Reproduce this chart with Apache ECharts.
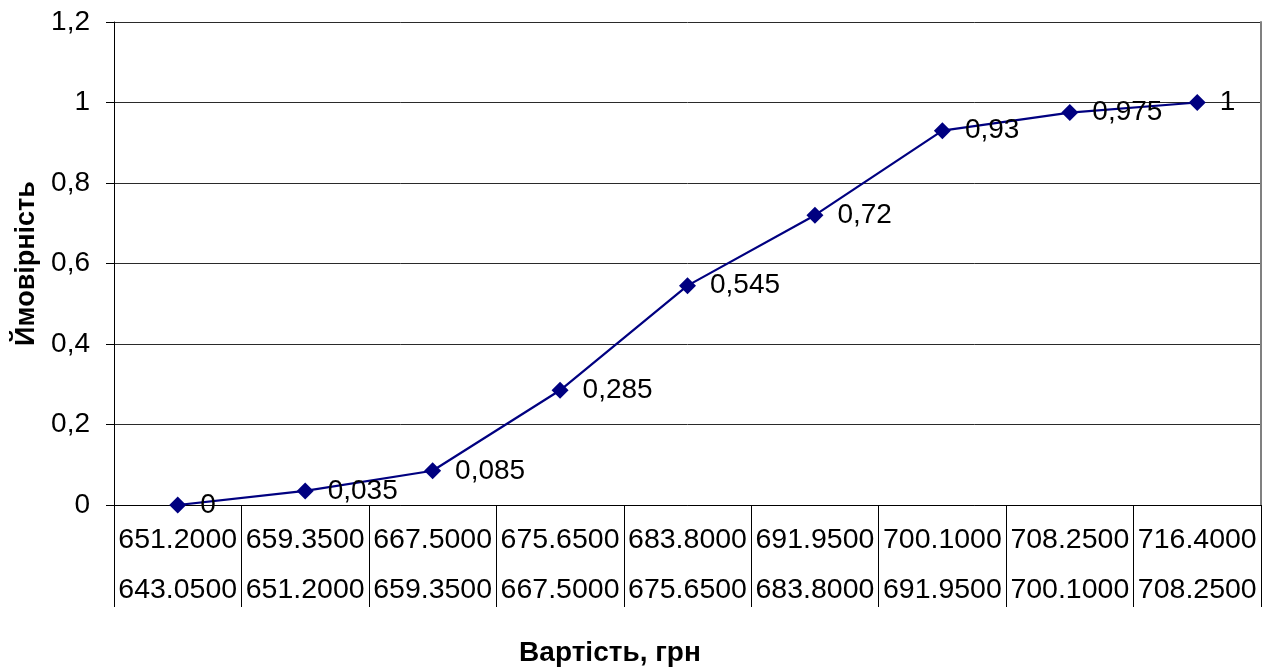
<!DOCTYPE html>
<html>
<head>
<meta charset="utf-8">
<script src="https://cdn.jsdelivr.net/npm/echarts@6/dist/echarts.min.js"></script>
<style>
  html, body { margin: 0; padding: 0; background: #fff; }
  #chart { width: 1275px; height: 669px; }
</style>
</head>
<body>
<div id="chart"></div>
<script>
// Interval bounds (upper / lower) of each cost bin, UAH
const upperBounds = ['651.2000', '659.3500', '667.5000', '675.6500', '683.8000', '691.9500', '700.1000', '708.2500', '716.4000'];
const lowerBounds = ['643.0500', '651.2000', '659.3500', '667.5000', '675.6500', '683.8000', '691.9500', '700.1000', '708.2500'];
// Cumulative probability per bin
const probability = [0, 0.035, 0.085, 0.285, 0.545, 0.72, 0.93, 0.975, 1];
// Y axis ticks
const yMin = 0, yMax = 1.2, yStep = 0.2;

const categories = upperBounds.map((u, i) => u + '\n' + lowerBounds[i]);
const FONT = 'Arial, "Liberation Sans", sans-serif';
const comma = v => String(+(+v).toFixed(3)).replace('.', ',');

const chart = echarts.init(document.getElementById('chart'));
chart.setOption({
  animation: false,
  backgroundColor: '#ffffff',
  textStyle: { fontFamily: FONT },
  grid: { left: 114, right: 14, top: 22, bottom: 164, containLabel: false },
  title: [
    {
      text: 'Вартість, грн',
      left: 605, top: 634, textAlign: 'center',
      textStyle: { fontFamily: FONT, fontSize: 28, fontWeight: 'bold', color: '#000' }
    }
  ],
  xAxis: {
    type: 'category',
    data: categories,
    boundaryGap: true,
    axisLine: { show: true, lineStyle: { color: '#000', width: 1 } },
    axisTick: { show: true, interval: 0, length: 102, lineStyle: { color: '#000', width: 1 } },
    axisLabel: {
      interval: 0,
      margin: 10,
      formatter: v => {
        const p = v.split('\n');
        return '{a|' + p[0] + '}\n{a|' + p[1] + '}';
      },
      rich: { a: { fontFamily: FONT, fontSize: 28.5, color: '#000', lineHeight: 50 } }
    },
    splitLine: { show: false }
  },
  yAxis: [
    {
      type: 'value',
      min: yMin, max: yMax, interval: yStep,
      name: 'Ймовірність',
      nameLocation: 'middle',
      nameGap: 68,
      nameRotate: 90,
      nameTextStyle: { fontFamily: FONT, fontSize: 27, fontWeight: 'bold', color: '#000' },
      axisLine: { show: true, lineStyle: { color: '#000', width: 1 } },
      axisTick: { show: true, length: 8, lineStyle: { color: '#000' } },
      axisLabel: {
        margin: 24,
        formatter: v => comma(v),
        fontFamily: FONT, fontSize: 28, color: '#000'
      },
      splitLine: { show: true, lineStyle: { color: '#2a2a2a', width: 1 } }
    },
    {
      type: 'value',
      position: 'right',
      min: yMin, max: yMax, interval: yStep,
      axisLine: { show: true, lineStyle: { color: '#808080', width: 2 } },
      axisTick: { show: false },
      axisLabel: { show: false },
      splitLine: { show: false }
    }
  ],
  series: [
    {
      type: 'line',
      data: probability,
      yAxisIndex: 0,
      symbol: 'diamond',
      symbolSize: 17,
      itemStyle: { color: '#000080' },
      lineStyle: { color: '#000080', width: 2.2 },
      label: {
        show: true,
        position: 'right',
        distance: 14,
        formatter: p => comma(p.value),
        fontFamily: FONT, fontSize: 28, color: '#000'
      }
    }
  ]
});
</script>
</body>
</html>
